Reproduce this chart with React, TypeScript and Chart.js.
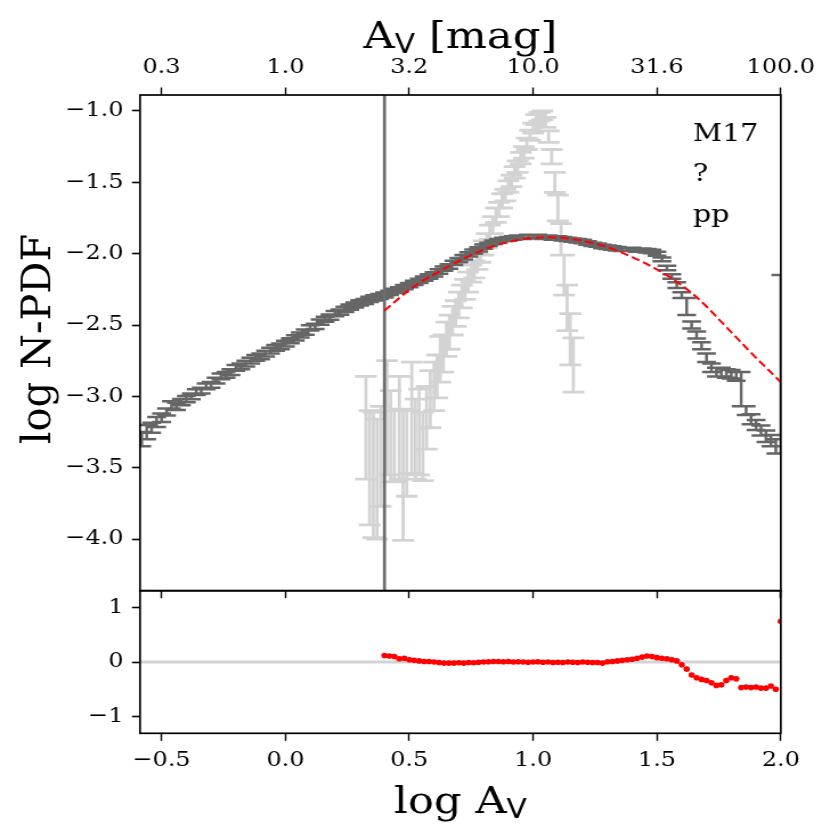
import React, { useEffect, useRef } from 'react';
import { Chart, registerables } from 'chart.js';

Chart.register(...registerables);

// ---------------- data ----------------
const X_RANGE = [-0.587, 2.0];
const Y_RANGE = [-4.362, -0.888];
const RES_RANGE = [-1.31, 1.31];
const TICK_STEP = 0.5;
const CUT_LOG_AV = 0.4;
const ANNOTATION_LINES = ['M17', '?', 'pp'];

const DARK_X = [
  -0.58, -0.56, -0.54, -0.52, -0.5, -0.48, -0.46, -0.44, -0.42, -0.4,
  -0.38, -0.36, -0.34, -0.32, -0.3, -0.28, -0.26, -0.24, -0.22, -0.2,
  -0.18, -0.16, -0.14, -0.12, -0.1, -0.08, -0.06, -0.04, -0.02, 0.0,
  0.02, 0.04, 0.06, 0.08, 0.1, 0.12, 0.14, 0.16, 0.18, 0.2,
  0.22, 0.24, 0.26, 0.28, 0.3, 0.32, 0.34, 0.36, 0.38, 0.4,
  0.42, 0.44, 0.46, 0.48, 0.5, 0.52, 0.54, 0.56, 0.58, 0.6,
  0.62, 0.64, 0.66, 0.68, 0.7, 0.72, 0.74, 0.76, 0.78, 0.8,
  0.82, 0.84, 0.86, 0.88, 0.9, 0.92, 0.94, 0.96, 0.98, 1.0,
  1.02, 1.04, 1.06, 1.08, 1.1, 1.12, 1.14, 1.16, 1.18, 1.2,
  1.22, 1.24, 1.26, 1.28, 1.3, 1.32, 1.34, 1.36, 1.38, 1.4,
  1.42, 1.44, 1.46, 1.48, 1.5, 1.52, 1.54, 1.56, 1.58, 1.6,
  1.62, 1.64, 1.66, 1.68, 1.7, 1.72, 1.74, 1.76, 1.78, 1.8,
  1.82, 1.84, 1.86, 1.88, 1.9, 1.92, 1.94, 1.96, 1.98, 2.0,
];
const DARK_Y = [
  -3.3, -3.25, -3.22, -3.18, -3.15, -3.11, -3.06, -3.07, -3.04, -3.02,
  -3.0, -2.97, -2.96, -2.93, -2.92, -2.89, -2.86, -2.85, -2.83, -2.8,
  -2.79, -2.77, -2.75, -2.73, -2.72, -2.7, -2.68, -2.66, -2.65, -2.63,
  -2.61, -2.59, -2.57, -2.55, -2.52, -2.51, -2.48, -2.46, -2.445, -2.42,
  -2.41, -2.39, -2.375, -2.36, -2.345, -2.335, -2.32, -2.31, -2.3, -2.29,
  -2.275, -2.26, -2.25, -2.235, -2.22, -2.205, -2.19, -2.175, -2.16, -2.145,
  -2.125, -2.105, -2.09, -2.065, -2.045, -2.025, -2.005, -1.985, -1.97, -1.95,
  -1.935, -1.92, -1.91, -1.9, -1.895, -1.89, -1.885, -1.885, -1.88, -1.88,
  -1.88, -1.885, -1.885, -1.89, -1.89, -1.895, -1.9, -1.905, -1.91, -1.915,
  -1.925, -1.935, -1.94, -1.95, -1.955, -1.96, -1.965, -1.97, -1.97, -1.97,
  -1.975, -1.975, -1.98, -1.985, -2.0, -2.04, -2.1, -2.16, -2.22, -2.29,
  -2.37, -2.5, -2.57, -2.645, -2.73, -2.8, -2.83, -2.83, -2.84, -2.845,
  -2.86, -2.95, -3.1, -3.16, -3.2, -3.24, -3.28, -3.31, -3.35, -2.15,
];
const DARK_YERR_UP = [
  0.05, 0.05, 0.035, 0.035, 0.03, 0.025, 0.025, 0.025, 0.022, 0.022,
  0.02, 0.02, 0.02, 0.02, 0.02, 0.02, 0.02, 0.02, 0.02, 0.02,
  0.02, 0.02, 0.02, 0.02, 0.02, 0.02, 0.02, 0.02, 0.02, 0.02,
  0.018, 0.018, 0.018, 0.018, 0.018, 0.018, 0.018, 0.018, 0.018, 0.018,
  0.018, 0.018, 0.018, 0.018, 0.018, 0.018, 0.018, 0.018, 0.018, 0.018,
  0.015, 0.015, 0.015, 0.015, 0.015, 0.015, 0.015, 0.015, 0.015, 0.015,
  0.015, 0.015, 0.015, 0.015, 0.015, 0.015, 0.015, 0.015, 0.015, 0.015,
  0.012, 0.012, 0.012, 0.012, 0.012, 0.012, 0.012, 0.012, 0.012, 0.012,
  0.012, 0.012, 0.012, 0.012, 0.012, 0.012, 0.012, 0.012, 0.012, 0.012,
  0.012, 0.012, 0.012, 0.012, 0.012, 0.012, 0.012, 0.012, 0.012, 0.012,
  0.012, 0.012, 0.012, 0.012, 0.014, 0.014, 0.016, 0.016, 0.02, 0.02,
  0.06, 0.025, 0.025, 0.025, 0.03, 0.03, 0.03, 0.03, 0.03, 0.03,
  0.03, 0.12, 0.03, 0.035, 0.035, 0.035, 0.04, 0.04, 0.05, 0.0,
];
const DARK_YERR_DN = [
  0.05, 0.05, 0.035, 0.035, 0.03, 0.025, 0.025, 0.025, 0.022, 0.022,
  0.02, 0.02, 0.02, 0.02, 0.02, 0.02, 0.02, 0.02, 0.02, 0.02,
  0.02, 0.02, 0.02, 0.02, 0.02, 0.02, 0.02, 0.02, 0.02, 0.02,
  0.018, 0.018, 0.018, 0.018, 0.018, 0.018, 0.018, 0.018, 0.018, 0.018,
  0.018, 0.018, 0.018, 0.018, 0.018, 0.018, 0.018, 0.018, 0.018, 0.018,
  0.015, 0.015, 0.015, 0.015, 0.015, 0.015, 0.015, 0.015, 0.015, 0.015,
  0.015, 0.015, 0.015, 0.015, 0.015, 0.015, 0.015, 0.015, 0.015, 0.015,
  0.012, 0.012, 0.012, 0.012, 0.012, 0.012, 0.012, 0.012, 0.012, 0.012,
  0.012, 0.012, 0.012, 0.012, 0.012, 0.012, 0.012, 0.012, 0.012, 0.012,
  0.012, 0.012, 0.012, 0.012, 0.012, 0.012, 0.012, 0.012, 0.012, 0.012,
  0.012, 0.012, 0.012, 0.012, 0.014, 0.014, 0.016, 0.016, 0.02, 0.02,
  0.06, 0.025, 0.025, 0.025, 0.03, 0.03, 0.03, 0.03, 0.03, 0.03,
  0.03, 0.12, 0.03, 0.035, 0.035, 0.035, 0.04, 0.04, 0.05, 1.25,
];

const LIGHT_X = [
  0.325, 0.34, 0.355, 0.37, 0.385, 0.41, 0.425, 0.44, 0.46, 0.475,
  0.49, 0.51, 0.525, 0.54, 0.555, 0.57, 0.585, 0.6, 0.6125, 0.625,
  0.6375, 0.65, 0.6625, 0.675, 0.6875, 0.7, 0.7125, 0.725, 0.7375, 0.75,
  0.7625, 0.775, 0.7875, 0.8, 0.8125, 0.825, 0.8375, 0.85, 0.8625, 0.875,
  0.8875, 0.9, 0.9125, 0.925, 0.9375, 0.95, 0.9625, 0.975, 0.9875, 1.0,
  1.0125, 1.025, 1.0375, 1.05, 1.0625, 1.075, 1.0875, 1.1, 1.1125, 1.125,
  1.1375, 1.15, 1.1625,
];
const LIGHT_Y = [
  -3.22, -3.5, -3.55, -3.58, -3.42, -3.15, -3.28, -3.35, -3.22, -3.55,
  -3.4, -3.15, -3.3, -3.25, -3.35, -3.15, -3.02, -2.93, -2.86, -2.74,
  -2.7, -2.6, -2.55, -2.47, -2.42, -2.36, -2.3, -2.25, -2.2, -2.14,
  -2.11, -2.05, -2.01, -1.96, -1.91, -1.85, -1.8, -1.73, -1.69, -1.63,
  -1.59, -1.53, -1.49, -1.43, -1.39, -1.33, -1.29, -1.23, -1.17, -1.12,
  -1.06, -1.04, -1.03, -1.08, -1.18, -1.32, -1.5, -1.68, -1.9, -2.15,
  -2.38, -2.6, -2.78,
];
const LIGHT_YERR = [
  0.36, 0.4, 0.44, 0.42, 0.35, 0.4, 0.32, 0.25, 0.36, 0.46,
  0.3, 0.39, 0.28, 0.3, 0.24, 0.22, 0.2, 0.17, 0.15, 0.16,
  0.13, 0.12, 0.12, 0.1, 0.09, 0.09, 0.08, 0.07, 0.07, 0.06,
  0.06, 0.06, 0.05, 0.05, 0.05, 0.05, 0.06, 0.05, 0.05, 0.05,
  0.04, 0.04, 0.04, 0.04, 0.04, 0.04, 0.04, 0.04, 0.035, 0.035,
  0.035, 0.03, 0.03, 0.035, 0.04, 0.05, 0.07, 0.09, 0.11, 0.14,
  0.16, 0.18, 0.19,
];

const FIT_X = [
  0.4, 0.45, 0.5, 0.55, 0.6, 0.65, 0.7, 0.75, 0.8, 0.85, 0.9,
  0.95, 1.0, 1.05, 1.1, 1.15, 1.2, 1.25, 1.3, 1.35, 1.4, 1.45,
  1.5, 1.55, 1.6, 1.65, 1.7, 1.75, 1.8, 1.85, 1.9, 1.95, 2.0,
];
const FIT_Y = [
  -2.4, -2.325, -2.255, -2.195, -2.145, -2.097, -2.052, -2.01, -1.972, -1.942, -1.918,
  -1.9, -1.889, -1.885, -1.887, -1.895, -1.909, -1.929, -1.955, -1.987, -2.024, -2.065,
  -2.111, -2.163, -2.222, -2.29, -2.37, -2.46, -2.55, -2.64, -2.73, -2.815, -2.9,
];

const RES_X = [
  0.4, 0.42, 0.44, 0.46, 0.48, 0.5, 0.52, 0.54, 0.56, 0.58,
  0.6, 0.62, 0.64, 0.66, 0.68, 0.7, 0.72, 0.74, 0.76, 0.78,
  0.8, 0.82, 0.84, 0.86, 0.88, 0.9, 0.92, 0.94, 0.96, 0.98,
  1.0, 1.02, 1.04, 1.06, 1.08, 1.1, 1.12, 1.14, 1.16, 1.18,
  1.2, 1.22, 1.24, 1.26, 1.28, 1.3, 1.32, 1.34, 1.36, 1.38,
  1.4, 1.42, 1.44, 1.46, 1.48, 1.5, 1.52, 1.54, 1.56, 1.58,
  1.6, 1.62, 1.64, 1.66, 1.68, 1.7, 1.72, 1.74, 1.76, 1.78,
  1.8, 1.82, 1.84, 1.86, 1.88, 1.9, 1.92, 1.94, 1.96, 1.98,
  2.0,
];
const RES_Y = [
  0.12, 0.11, 0.1, 0.06, 0.07, 0.04, 0.03, 0.02, 0.01, 0.01,
  0.0, -0.01, -0.02, -0.02, -0.02, -0.015, -0.02, -0.01, -0.015, -0.005,
  0.0, 0.005, 0.01, 0.01, 0.005, 0.01, 0.0, 0.005, 0.0, -0.005,
  0.0, 0.005, -0.005, 0.0, -0.01, -0.005, -0.01, 0.0, -0.005, -0.01,
  0.0, -0.005, -0.01, -0.01, -0.02, 0.005, 0.01, 0.02, 0.03, 0.04,
  0.05, 0.07, 0.09, 0.11, 0.1, 0.08, 0.07, 0.06, 0.04, 0.02,
  -0.05, -0.13, -0.24, -0.29, -0.32, -0.34, -0.38, -0.43, -0.42, -0.34,
  -0.29, -0.31, -0.47, -0.46, -0.47, -0.46, -0.48, -0.48, -0.44, -0.5,
  0.75,
];

// ---------------- layout / style ----------------
const SCREEN_W = 830;
const CANVAS_W = 728;
const SX = SCREEN_W / CANVAS_W;
const AREA_LEFT = 140 / SX;
const AREA_RIGHT = 780.8 / SX;
const RIGHT_PAD = CANVAS_W - AREA_RIGHT;
const H_A = 640;
const A_TOP = 95;
const A_BOTTOM = 590.7;
const B_OFFSET = 560;
const H_B = 280;
const B_TOP = 590.7 - B_OFFSET;
const B_BOTTOM = 733.3 - B_OFFSET;

const SERIF = "'DejaVu Serif', serif";
const DARK = '#666666';
const LIGHT = '#d3d3d3';
const CAP_DARK = 0.038;
const CAP_LIGHT = 0.044;

const fmt = (v: number, d: number) => {
  const s = v.toFixed(d);
  if (Number(s) === 0) return (0).toFixed(d);
  return s.startsWith('-') ? '\u2212' + s.slice(1) : s;
};

function errorBars(xs: number[], ys: number[], up: number[], dn: number[], cap: number) {
  const pts: { x: number; y: number | null }[] = [];
  xs.forEach((x, i) => {
    const top = ys[i] + up[i];
    const bot = ys[i] - dn[i];
    pts.push({ x, y: top }, { x, y: bot }, { x, y: null });
    pts.push({ x: x - cap, y: top }, { x: x + cap, y: top }, { x, y: null });
    pts.push({ x: x - cap, y: bot }, { x: x + cap, y: bot }, { x, y: null });
  });
  return pts;
}

function drawSubText(ctx: CanvasRenderingContext2D, cx: number, baseline: number, main: string, sub: string, rest: string) {
  const fMain = `38px ${SERIF}`;
  const fSub = "26px 'DejaVu Sans', sans-serif";
  ctx.font = fMain;
  const w1 = ctx.measureText(main).width;
  const w3 = rest ? ctx.measureText(rest).width : 0;
  ctx.font = fSub;
  const w2 = ctx.measureText(sub).width;
  let x = cx - (w1 + w2 + w3) / 2;
  ctx.textAlign = 'left';
  ctx.textBaseline = 'alphabetic';
  ctx.fillStyle = '#000';
  ctx.font = fMain;
  ctx.fillText(main, x, baseline);
  x += w1;
  ctx.font = fSub;
  ctx.fillText(sub, x, baseline + 5);
  x += w2;
  if (rest) {
    ctx.font = fMain;
    ctx.fillText(rest, x, baseline);
  }
}

function frame(chart: any) {
  const { ctx, chartArea: ca } = chart;
  ctx.save();
  ctx.strokeStyle = '#000';
  ctx.lineWidth = 1.7;
  ctx.strokeRect(ca.left, ca.top, ca.right - ca.left, ca.bottom - ca.top);
  ctx.restore();
}

const decorA = {
  id: 'decorA',
  afterDraw(chart: any) {
    frame(chart);
    const { ctx, chartArea: ca } = chart;
    ctx.save();
    drawSubText(ctx, (ca.left + ca.right) / 2, ca.top - 47, 'A', 'V', ' [mag]');
    ctx.save();
    ctx.translate(ca.left - 78.9, (ca.top + ca.bottom) / 2 - 3.8);
    ctx.scale(1 / SX, 1);
    ctx.rotate(-Math.PI / 2);
    ctx.font = `40px ${SERIF}`;
    ctx.textAlign = 'center';
    ctx.textBaseline = 'alphabetic';
    ctx.fillStyle = '#000';
    ctx.fillText('log N-PDF', 0, 0);
    ctx.restore();
    ctx.font = `25px ${SERIF}`;
    ctx.textAlign = 'left';
    ctx.textBaseline = 'alphabetic';
    ctx.fillStyle = '#000';
    const ax = ca.left + 0.863 * (ca.right - ca.left);
    [45.5, 86, 126.5].forEach((dy, i) => ctx.fillText(ANNOTATION_LINES[i], ax, ca.top + dy));
    ctx.restore();
  },
};

const decorB = {
  id: 'decorB',
  afterDraw(chart: any) {
    frame(chart);
    const { ctx, chartArea: ca } = chart;
    ctx.save();
    drawSubText(ctx, (ca.left + ca.right) / 2, ca.bottom + 79.4, 'log A', 'V', '');
    ctx.restore();
  },
};

const tickFont = { family: SERIF, size: 21 };
const gridX = { display: true, drawOnChartArea: false, drawTicks: true, tickLength: 7.5, tickWidth: 1.4, tickColor: '#000', color: '#000' };
const gridY = { display: true, drawOnChartArea: false, drawTicks: true, tickLength: 7, tickWidth: 1.6, tickColor: '#000', color: '#000' };

export default function App() {
  const refA = useRef<HTMLCanvasElement>(null);
  const refB = useRef<HTMLCanvasElement>(null);

  useEffect(() => {
    const common = {
      animation: false as const,
      responsive: false,
      events: [] as any[],
      plugins: { legend: { display: false }, tooltip: { enabled: false }, title: { display: false } },
    };

    const chartA = new Chart(refA.current as HTMLCanvasElement, {
      type: 'line',
      data: {
        datasets: [
          {
            data: FIT_X.map((x, i) => ({ x, y: FIT_Y[i] })),
            borderColor: 'red',
            borderWidth: 2,
            borderDash: [7.5, 3.5],
            pointRadius: 0,
            cubicInterpolationMode: 'monotone',
            fill: false,
          },
          {
            data: [{ x: CUT_LOG_AV, y: Y_RANGE[0] }, { x: CUT_LOG_AV, y: Y_RANGE[1] }],
            borderColor: '#6e6e6e',
            borderWidth: 2.8,
            pointRadius: 0,
            fill: false,
          },
          {
            data: errorBars(DARK_X, DARK_Y, DARK_YERR_UP, DARK_YERR_DN, CAP_DARK),
            borderColor: DARK,
            borderWidth: 2.5,
            pointRadius: 0,
            spanGaps: false,
            tension: 0,
            fill: false,
          },
          {
            data: errorBars(LIGHT_X, LIGHT_Y, LIGHT_YERR, LIGHT_YERR, CAP_LIGHT),
            borderColor: LIGHT,
            borderWidth: 2.8,
            pointRadius: 0,
            spanGaps: false,
            tension: 0,
            fill: false,
          },
        ] as any,
      },
      options: {
        ...common,
        layout: { padding: { left: 0, right: RIGHT_PAD, top: 0, bottom: 0 } },
        scales: {
          x: {
            type: 'linear',
            position: 'bottom',
            min: X_RANGE[0],
            max: X_RANGE[1],
            afterFit: (s: any) => { s.height = H_A - A_BOTTOM; },
            ticks: { display: false, stepSize: TICK_STEP, includeBounds: false, maxRotation: 0, minRotation: 0, autoSkip: false },
            grid: gridX,
            border: { display: false },
          },
          x2: {
            type: 'linear',
            axis: 'x',
            position: 'top',
            min: X_RANGE[0],
            max: X_RANGE[1],
            afterFit: (s: any) => { s.height = A_TOP; },
            ticks: {
              stepSize: TICK_STEP,
              includeBounds: false,
              maxRotation: 0,
              minRotation: 0,
              autoSkip: false,
              padding: 7.0,
              color: '#000',
              font: tickFont,
              callback: (v: any) => Math.pow(10, Number(v)).toFixed(1),
            },
            grid: gridX,
            border: { display: false },
          },
          y: {
            type: 'linear',
            position: 'left',
            min: Y_RANGE[0],
            max: Y_RANGE[1],
            afterFit: (s: any) => { s.width = AREA_LEFT; },
            ticks: {
              stepSize: TICK_STEP,
              includeBounds: false,
              padding: 7.5,
              color: '#000',
              font: tickFont,
              callback: (v: any) => fmt(Number(v), 1),
            },
            grid: gridY,
            border: { display: false },
          },
        },
      } as any,
      plugins: [decorA],
    });

    const chartB = new Chart(refB.current as HTMLCanvasElement, {
      type: 'line',
      data: {
        datasets: [
          {
            data: RES_X.map((x, i) => ({ x, y: RES_Y[i] })),
            showLine: false,
            pointRadius: 2.8,
            pointBackgroundColor: 'red',
            pointBorderColor: 'red',
            pointBorderWidth: 0,
          },
          {
            data: [{ x: X_RANGE[0], y: 0 }, { x: X_RANGE[1], y: 0 }],
            borderColor: LIGHT,
            borderWidth: 3,
            pointRadius: 0,
            fill: false,
          },
        ] as any,
      },
      options: {
        ...common,
        layout: { padding: { left: 0, right: RIGHT_PAD, top: B_TOP, bottom: 0 } },
        scales: {
          x: {
            type: 'linear',
            position: 'bottom',
            min: X_RANGE[0],
            max: X_RANGE[1],
            afterFit: (s: any) => { s.height = H_B - B_BOTTOM; },
            ticks: {
              stepSize: TICK_STEP,
              includeBounds: false,
              maxRotation: 0,
              minRotation: 0,
              autoSkip: false,
              padding: 7.0,
              color: '#000',
              font: tickFont,
              callback: (v: any) => fmt(Number(v), 1),
            },
            grid: gridX,
            border: { display: false },
          },
          y: {
            type: 'linear',
            position: 'left',
            min: RES_RANGE[0],
            max: RES_RANGE[1],
            afterFit: (s: any) => { s.width = AREA_LEFT; },
            ticks: {
              stepSize: 1,
              includeBounds: false,
              padding: 7.5,
              color: '#000',
              font: tickFont,
              callback: (v: any) => fmt(Number(v), 0),
            },
            grid: gridY,
            border: { display: false },
          },
        },
      } as any,
      plugins: [decorB],
    });

    return () => {
      chartA.destroy();
      chartB.destroy();
    };
  }, []);

  return (
    <div style={{ position: 'absolute', left: 0, top: 0, width: SCREEN_W, height: 840, background: '#fff' }}>
      <canvas
        ref={refA}
        width={CANVAS_W}
        height={H_A}
        style={{ position: 'absolute', left: 0, top: 0, width: `${SCREEN_W}px`, height: `${H_A}px` }}
      />
      <canvas
        ref={refB}
        width={CANVAS_W}
        height={H_B}
        style={{ position: 'absolute', left: 0, top: `${B_OFFSET}px`, width: `${SCREEN_W}px`, height: `${H_B}px` }}
      />
    </div>
  );
}
